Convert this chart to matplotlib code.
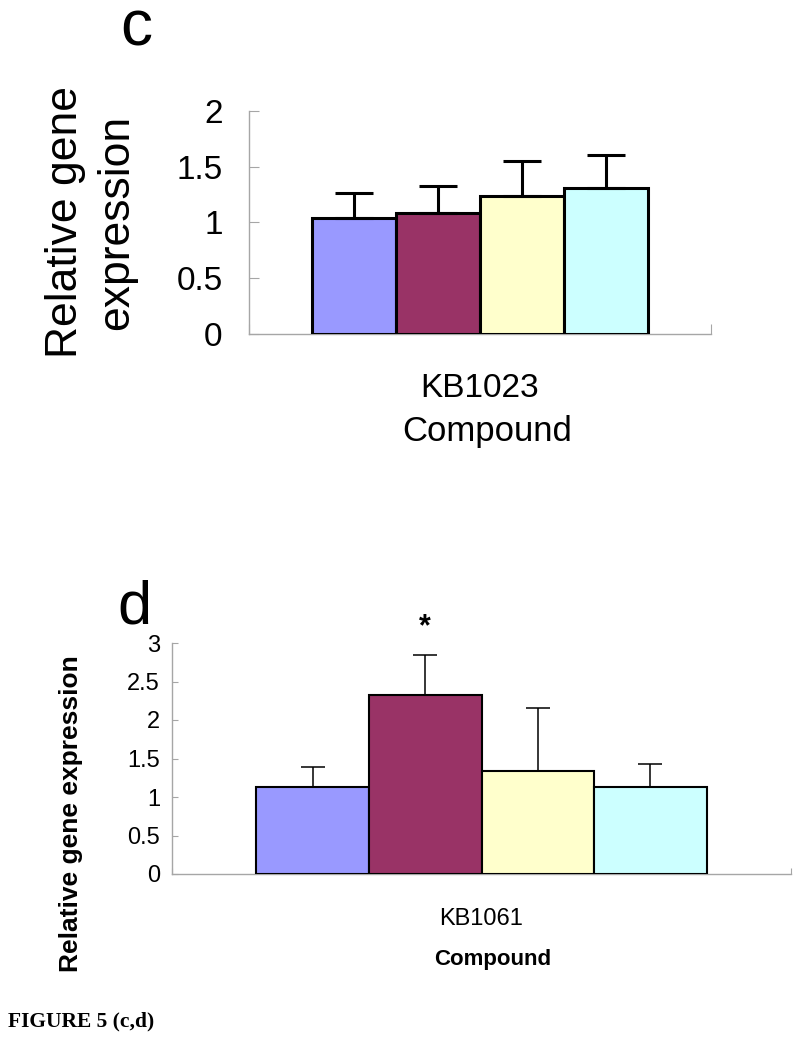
import numpy as np
import matplotlib.pyplot as plt

plt.rcParams['font.family'] = ['Liberation Sans', 'DejaVu Sans']

# 数据
colors = ['#9999FF', '#993366', '#FFFFCC', '#CCFFFF']
c_compound = 'KB1023'
c_mean = [1.04, 1.08, 1.24, 1.31]
c_err = [0.22, 0.25, 0.31, 0.29]
c_yticks = [0, 0.5, 1, 1.5, 2]
c_yticklabels = ['0', '0.5', '1', '1.5', '2']

d_compound = 'KB1061'
d_mean = [1.13, 2.33, 1.34, 1.13]
d_err = [0.26, 0.51, 0.81, 0.30]
d_yticks = [0, 0.5, 1, 1.5, 2, 2.5, 3]
d_yticklabels = ['0', '0.5', '1', '1.5', '2', '2.5', '3']
d_star_bar = 1
d_star_y = 3.2

fig = plt.figure(figsize=(8, 10.39), dpi=100)
W, H = 800, 1039
grey = '#a6a6a6'

bw = 0.182
xpos = 0.5 + (np.arange(4) - 1.5) * bw


def panel(ax, mean, err, yticks, ylabels, ymax, compound,
          lw, elw, cap, tick_fs, tick_pad, ticklen, cat_pad, cat_fs):
    ax.bar(xpos, mean, width=bw, color=colors, edgecolor='black', linewidth=lw, zorder=2)
    ax.errorbar(xpos, mean, yerr=[np.zeros(4), err], fmt='none', ecolor='black',
                elinewidth=elw, capsize=cap, capthick=elw, zorder=3)
    ax.set_xlim(0, 1)
    ax.set_ylim(0, ymax)
    for s in ['top', 'right']:
        ax.spines[s].set_visible(False)
    for s in ['left', 'bottom']:
        ax.spines[s].set_color(grey)
        ax.spines[s].set_linewidth(1.0)
        ax.spines[s].set_zorder(1)
    ax.set_yticks(yticks, labels=ylabels)
    ax.tick_params(axis='y', direction='in', length=ticklen, color=grey,
                   labelsize=tick_fs, pad=tick_pad)
    ax.set_xticks([0, 1], labels=['', ''])
    ax.tick_params(axis='x', which='major', direction='in', length=ticklen, color=grey)
    ax.set_xticks([0.5], labels=[compound], minor=True)
    ax.tick_params(axis='x', which='minor', length=0, labelsize=cat_fs, pad=cat_pad)


# c
ax1 = fig.add_axes([249 / W, 1 - 334 / H, 462 / W, 223.3 / H])
panel(ax1, c_mean, c_err, c_yticks, c_yticklabels, 2, c_compound,
      lw=2.2, elw=2.2, cap=14, tick_fs=24, tick_pad=19, ticklen=7,
      cat_pad=28, cat_fs=24)
ax1.set_xlabel('Compound', fontsize=25, va='top')
ax1.xaxis.set_label_coords(0.515, -0.3627)
fig.text(91 / W, 1 - 222 / H, 'Relative gene\nexpression', rotation=90,
         ha='center', va='center', fontsize=32, linespacing=1.3)
fig.text(136 / W, 1 - 46 / H, 'c', ha='center', va='baseline', fontsize=46)

# d
ax2 = fig.add_axes([172 / W, 1 - 874 / H, 619 / W, 231 / H])
panel(ax2, d_mean, d_err, d_yticks, d_yticklabels, 3, d_compound,
      lw=1.5, elw=1.1, cap=8.6, tick_fs=17, tick_pad=8.6, ticklen=4.3,
      cat_pad=24.5, cat_fs=17)
ax2.set_xlabel('Compound', fontsize=16, fontweight='bold', va='top')
ax2.xaxis.set_label_coords(0.5186, -0.3247)
ax2.text(xpos[d_star_bar], d_star_y, '*', ha='center', va='center',
         fontsize=22, fontweight='bold', clip_on=False)
fig.text(71 / W, 1 - 814 / H, 'Relative gene expression', rotation=90,
         ha='center', va='center', fontsize=19, fontweight='bold')
fig.text(134 / W, 1 - 624 / H, 'd', ha='center', va='baseline', fontsize=44)

fig.text(8 / W, 1 - 1026 / H, 'FIGURE 5 (c,d)', ha='left', va='baseline',
         fontsize=15.5, fontweight='bold', family=['Liberation Serif', 'DejaVu Serif'])

fig.savefig('out.png', dpi=100)
